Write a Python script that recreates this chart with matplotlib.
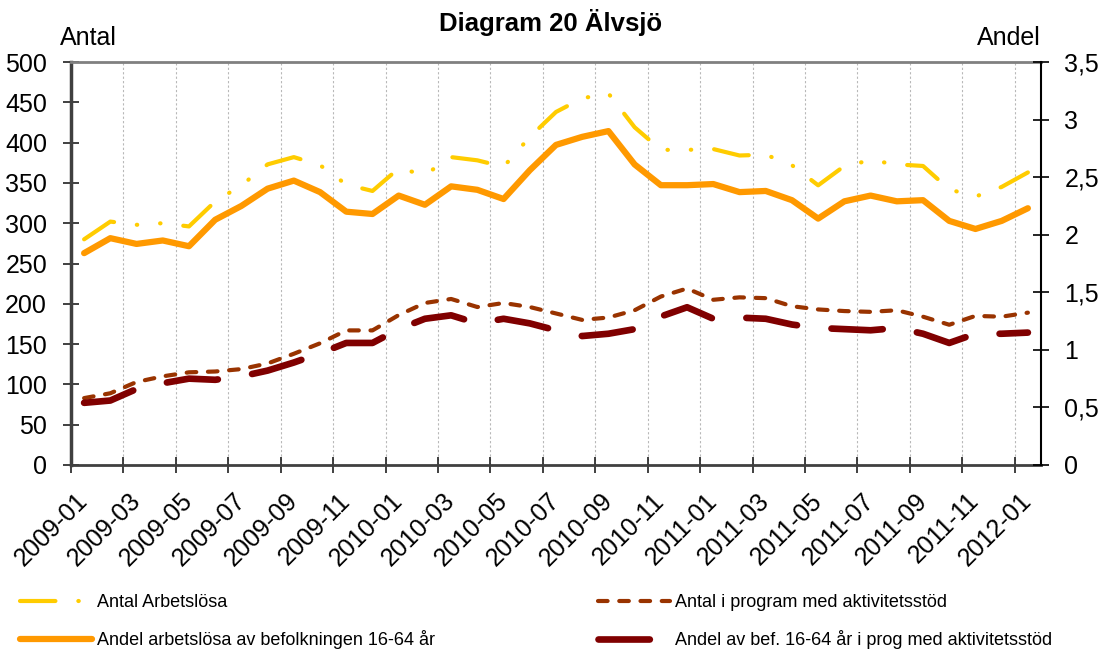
import matplotlib
matplotlib.use('Agg')
import matplotlib.pyplot as plt
from matplotlib.ticker import FuncFormatter
import numpy as np
import pandas as pd

plt.rcParams['font.family'] = ['Liberation Sans', 'DejaVu Sans']

# monthly categories 2009-01 .. 2012-01
months = list(pd.period_range('2009-01', '2012-01', freq='M').strftime('%Y-%m'))

# left axis (Antal)
antal_arbetslosa = [280, 302, 298, 300, 296, 327, 347, 373, 382, 372, 348, 340,
                    368, 360, 382, 378, 370, 407, 438, 455, 461, 419, 391, 391,
                    392, 384, 385, 372, 347, 371, 378, 373, 371, 342, 333, 345, 363]
antal_program = [83, 89, 103, 110, 115, 116, 119, 126, 138, 151, 167, 167,
                 186, 201, 206, 196, 201, 196, 188, 180, 183, 192, 209, 219,
                 205, 208, 207, 197, 193, 191, 190, 192, 184, 174, 185, 184, 189]

# right axis (Andel, %)
andel_arbetslosa = [1.84, 1.97, 1.92, 1.95, 1.90, 2.13, 2.25, 2.40, 2.47, 2.37, 2.20, 2.18,
                    2.34, 2.26, 2.42, 2.39, 2.31, 2.56, 2.78, 2.85, 2.90, 2.61, 2.43, 2.43,
                    2.44, 2.37, 2.38, 2.30, 2.14, 2.29, 2.34, 2.29, 2.30, 2.12, 2.05, 2.12, 2.23]
andel_program = [0.54, 0.56, 0.66, 0.71, 0.75, 0.74, 0.77, 0.82, 0.89, 0.97, 1.06, 1.06,
                 1.18, 1.27, 1.30, 1.23, 1.27, 1.23, 1.17, 1.12, 1.14, 1.18, 1.29, 1.37,
                 1.27, 1.28, 1.27, 1.22, 1.19, 1.18, 1.17, 1.19, 1.14, 1.06, 1.14, 1.14, 1.15]

W, H = 1107, 655
fig = plt.figure(figsize=(W / 100, H / 100), dpi=100)
ax = fig.add_axes([71 / W, 190 / H, 970 / W, 403 / H])
ax2 = ax.twinx()

x = np.arange(len(months))

l1, = ax.plot(x, antal_arbetslosa, color='#FFCC00', lw=3.0,
              dashes=(8.5, 5.5, 0.1, 5.5, 0.1, 5.5), dash_capstyle='round',
              label='Antal Arbetslösa')
l3, = ax.plot(x, antal_program, color='#993300', lw=3.0,
              dashes=(2.3, 2.8), dash_capstyle='round',
              label='Antal i program med aktivitetsstöd')
l2, = ax2.plot(x, andel_arbetslosa, color='#FF9900', lw=4.5,
               solid_capstyle='round', solid_joinstyle='round',
               label='Andel arbetslösa av befolkningen 16-64 år')
l4, = ax2.plot(x, andel_program, color='#800000', lw=4.8,
               dashes=(7.7, 5.2), dash_capstyle='round',
               label='Andel av bef. 16-64 år i prog med aktivitetsstöd')

ax.set_xlim(-0.5, len(months) - 0.5)
ax.set_ylim(0, 500)
ax2.set_ylim(0, 3.5)

# tick marks / gridlines on category boundaries, labels on category centers
ax.set_xticks(np.arange(-0.5, len(months) - 1, 2))
ax.set_xticklabels([])
ax.set_xticks(x[::2], minor=True)
ax.set_xticklabels(months[::2], minor=True, rotation=45, ha='right', va='center',
                   rotation_mode='anchor', fontsize=18)
ax.tick_params(axis='x', which='major', direction='inout', length=11.5, width=1.2, color='#202020')
ax.tick_params(axis='x', which='minor', length=0, pad=23)
ax.grid(axis='x', which='major', color='#b8b8b8', lw=0.8, ls=(0, (2, 2)))
ax.set_axisbelow(True)

ax.set_yticks(range(0, 501, 50))
ax.tick_params(axis='y', direction='inout', length=11.5, width=1.2, labelsize=18, pad=11.5, color='#202020')
ax2.set_yticks(np.arange(0, 3.51, 0.5))
ax2.yaxis.set_major_formatter(FuncFormatter(lambda v, p: ('%g' % v).replace('.', ',')))
ax2.tick_params(axis='y', direction='inout', length=11.5, width=1.2, labelsize=18, pad=11, color='black')

for s in ['left', 'top', 'bottom']:
    ax2.spines[s].set_visible(False)
ax.spines['right'].set_visible(False)
ax.spines['top'].set_color('#808080')
ax.spines['top'].set_linewidth(2)
ax.spines['left'].set_color('#404040')
ax.spines['left'].set_linewidth(2.5)
ax.spines['bottom'].set_color('#404040')
ax.spines['bottom'].set_linewidth(2)
ax2.spines['right'].set_color('black')
ax2.spines['right'].set_linewidth(1.5)

fig.text(551 / W, 1 - 23 / H, 'Diagram 20 Älvsjö', ha='center', va='center',
         fontsize=18.5, fontweight='bold')
fig.text(88 / W, 1 - 38 / H, 'Antal', ha='center', va='center', fontsize=18)
fig.text(1009 / W, 1 - 38 / H, 'Andel', ha='center', va='center', fontsize=18)

leg_kw = dict(loc='upper left', frameon=False, fontsize=13, handlelength=4,
              handletextpad=0.25, labelspacing=1.05, borderpad=0, borderaxespad=0)
fig.legend(handles=[l1, l2], bbox_to_anchor=(20 / W, 1 - 594 / H), **leg_kw)
fig.legend(handles=[l3, l4], bbox_to_anchor=(598 / W, 1 - 594 / H), **leg_kw)

fig.savefig('out.png', dpi=100)
